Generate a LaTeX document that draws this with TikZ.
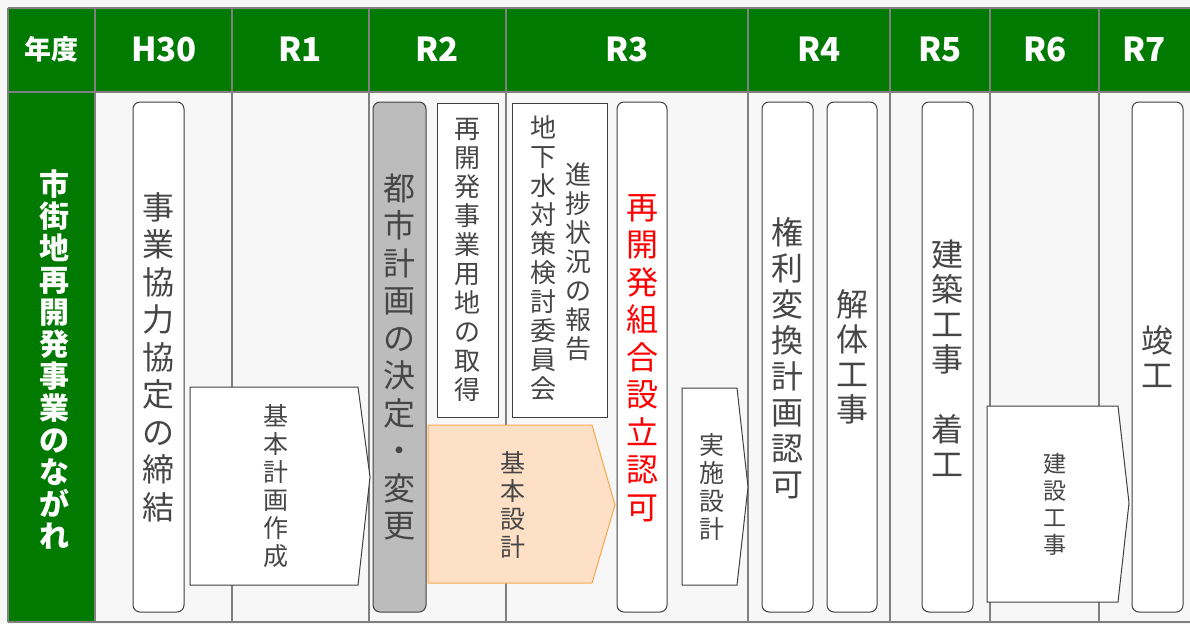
\documentclass[tikz,border=0pt]{standalone}
\usepackage{fontspec}
\setmainfont{Noto Sans CJK JP}
\definecolor{hdrgreen}{RGB}{0,122,0}
\definecolor{bgcol}{RGB}{247,247,247}
\definecolor{gridcol}{RGB}{128,128,128}
\definecolor{boxline}{RGB}{64,64,64}
\definecolor{txtcol}{RGB}{70,70,70}
\definecolor{grayfill}{RGB}{188,188,188}
\definecolor{peach}{RGB}{253,224,197}
\definecolor{orangeline}{RGB}{247,168,78}
\definecolor{redtxt}{RGB}{255,0,0}
\tikzset{
  grid/.style={draw=gridcol,line width=1.5pt},
  rbox/.style={draw=boxline,fill=white,line width=1pt,rounded corners=7pt},
  sbox/.style={draw=boxline,fill=white,line width=1pt},
  gbox/.style={draw=boxline,fill=grayfill,line width=1pt,rounded corners=7pt},
  abox/.style={draw=boxline,fill=white,line width=1pt},
  obox/.style={draw=orangeline,fill=peach,line width=1pt},
  vtxt/.style={inner sep=0pt,align=center,text=txtcol},
  hdr/.style={inner sep=0pt,text=white,font=\fontsize{33}{34}\selectfont\bfseries},
}
\newcommand{\fs}[2]{\fontsize{#1}{#2}\selectfont}
\begin{document}
\begin{tikzpicture}[x=1pt,y=-1pt]
\useasboundingbox (0,0) rectangle (1190,624);
\fill[bgcol] (0,0) rectangle (1190,624);
% header
\fill[hdrgreen] (8,8) rectangle (1192,92);
\fill[hdrgreen] (8,92) rectangle (95,622);
% grid lines
\draw[grid] (8,8) -- (1192,8);
\draw[grid] (8,8) -- (8,622);
\draw[grid] (8,92) -- (1192,92);
\draw[grid] (8,622) -- (1192,622);
\foreach \x in {95,232,369,506,748,890,990,1099} \draw[grid] (\x,8) -- (\x,622);
% header texts
\node[hdr,font=\fs{27}{28}\bfseries] (hy) at (51.5,49) {年度};
\node[hdr] (h30) at (164,49) {H30};
\node[hdr] (hr1) at (300,49) {R1};
\node[hdr] (hr2) at (437,49) {R2};
\node[hdr] (hr3) at (627,49) {R3};
\node[hdr] (hr4) at (819,49) {R4};
\node[hdr] (hr5) at (940,49) {R5};
\node[hdr] (hr6) at (1045,49) {R6};
\node[hdr] (hr7) at (1144,49) {R7};
% left label
\node[inner sep=0pt,align=center,text=white,font=\fs{30}{32}\bfseries] (side) at (54,359)
  {市\\街\\地\\再\\開\\発\\事\\業\\の\\な\\が\\れ};
% boxes
\draw[rbox] (133,102) rectangle (184,612);
\node[vtxt,font=\fs{32}{37.5}] (kyotei) at (158.5,357) {事\\業\\協\\力\\協\\定\\の\\締\\結};
\draw[abox] (190,387) -- (358,387) -- (370,477) -- (358,585) -- (190,585) -- cycle;
\node[vtxt,font=\fs{25}{28}] (kihonkeikaku) at (276,486) {基\\本\\計\\画\\作\\成};
\draw[gbox] (373,102) rectangle (426,612);
\node[vtxt,font=\fs{32}{37.5}] (toshi) at (399.5,357) {都\\市\\計\\画\\の\\決\\定\\・\\変\\更};
\draw[sbox] (437,103) rectangle (498,417);
\node[vtxt,font=\fs{26}{29}] (yochi) at (467.5,260) {再\\開\\発\\事\\業\\用\\地\\の\\取\\得};
\draw[sbox] (512,103) rectangle (607,417);
\node[vtxt,font=\fs{26}{29}] (chika) at (543,258) {地\\下\\水\\対\\策\\検\\討\\委\\員\\会};
\node[vtxt,font=\fs{26}{29}] (shincho) at (578,262) {進\\捗\\状\\況\\の\\報\\告};
\draw[obox] (428,425) -- (592,425) -- (615,505) -- (592,583) -- (428,583) -- cycle;
\node[vtxt,font=\fs{25}{28}] (kihonsekkei) at (513,505) {基\\本\\設\\計};
\draw[rbox] (617,102) rectangle (667,612);
\node[vtxt,text=redtxt,font=\fs{32}{37.5}] (kumiai) at (642,358) {再\\開\\発\\組\\合\\設\\立\\認\\可};
\draw[abox] (682,388) -- (737,388) -- (748,487) -- (737,585) -- (682,585) -- cycle;
\node[vtxt,font=\fs{25}{28}] (jisshi) at (712,487) {実\\施\\設\\計};
\draw[rbox] (762,102) rectangle (813,612);
\node[vtxt,font=\fs{32}{36}] (kenri) at (787.5,358) {権\\利\\変\\換\\計\\画\\認\\可};
\draw[rbox] (827,102) rectangle (877,612);
\node[vtxt,font=\fs{32}{35}] (kaitai) at (852,357) {解\\体\\工\\事};
\draw[rbox] (922,102) rectangle (973,612);
\node[vtxt,font=\fs{32}{35}] (kenchiku) at (947.5,358) {建\\築\\工\\事\\\mbox{}\\着\\工};
\draw[abox] (987,406) -- (1118,406) -- (1129,503) -- (1118,602) -- (987,602) -- cycle;
\node[vtxt,font=\fs{23}{27}] (kensetsu) at (1055,504) {建\\設\\工\\事};
\draw[rbox] (1132,102) rectangle (1183,612);
\node[vtxt,font=\fs{32}{35}] (shunko) at (1157.5,357) {竣\\工};
\end{tikzpicture}
\end{document}
